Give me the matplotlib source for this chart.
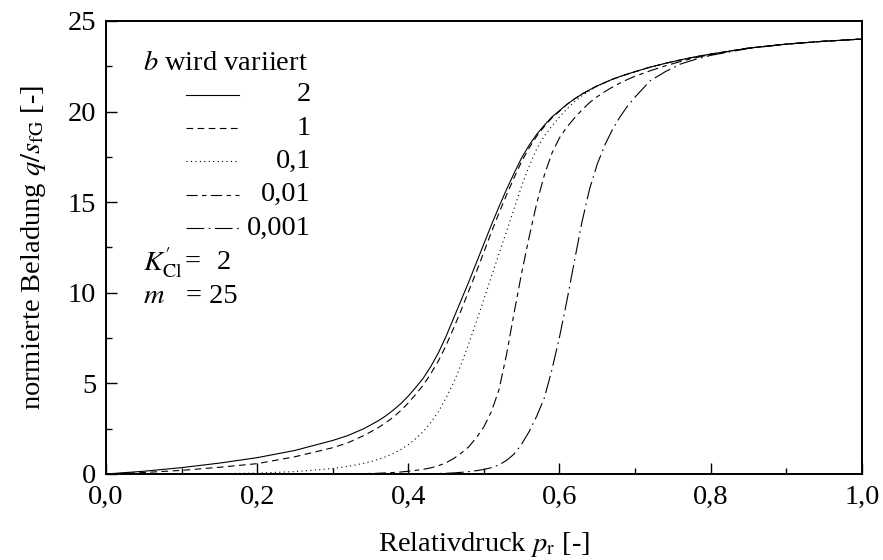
import numpy as np
import matplotlib
matplotlib.use("Agg")
from matplotlib import pyplot as plt

plt.rcParams['font.family'] = ['Liberation Serif', 'DejaVu Serif']
plt.rcParams['mathtext.fontset'] = 'stix'
plt.rcParams['font.size'] = 20.5

# relative pressure p_r
p = [0.0, 0.05, 0.1, 0.15, 0.2, 0.25, 0.3, 0.32,
     0.34, 0.35, 0.36, 0.37, 0.38, 0.39, 0.40, 0.41, 0.42, 0.43, 0.44, 0.45,
     0.46, 0.47, 0.48, 0.49, 0.50, 0.51, 0.52, 0.53, 0.54, 0.55, 0.56, 0.57,
     0.58, 0.59, 0.60, 0.61, 0.62, 0.63, 0.64, 0.65, 0.66, 0.67, 0.68, 0.69, 0.70,
     0.72, 0.74, 0.76, 0.78, 0.80, 0.85, 0.90, 0.95, 1.0]

# normalised loading q/s_fG for each b
q_b2 = [0.0, 0.15, 0.35, 0.6, 0.9, 1.3, 1.85, 2.12,
        2.48, 2.7, 2.93, 3.2, 3.52, 3.88, 4.3, 4.78, 5.3, 5.95, 6.7, 7.6,
        8.6, 9.6, 10.6, 11.65, 12.7, 13.75, 14.75, 15.7, 16.6, 17.45, 18.15, 18.75,
        19.25, 19.7, 20.05, 20.4, 20.7, 20.97, 21.2, 21.42, 21.6, 21.78, 21.93, 22.07, 22.2,
        22.45, 22.66, 22.85, 23.02, 23.17, 23.5, 23.72, 23.88, 24.0]
q_b1 = [0.0, 0.08, 0.2, 0.37, 0.57, 0.95, 1.45, 1.72,
        2.1, 2.32, 2.55, 2.82, 3.13, 3.5, 3.92, 4.4, 4.92, 5.55, 6.25, 7.1,
        8.05, 9.05, 10.1, 11.15, 12.25, 13.35, 14.4, 15.4, 16.35, 17.25, 18.0, 18.65,
        19.18, 19.65, 20.02, 20.4, 20.7, 20.97, 21.2, 21.42, 21.6, 21.78, 21.93, 22.07, 22.2,
        22.45, 22.66, 22.85, 23.02, 23.17, 23.5, 23.72, 23.88, 24.0]
q_b01 = [0.0, 0.0, 0.01, 0.02, 0.05, 0.13, 0.3, 0.42,
         0.58, 0.68, 0.8, 0.95, 1.12, 1.35, 1.62, 1.95, 2.35, 2.85, 3.45, 4.2,
         5.05, 6.05, 7.2, 8.4, 9.65, 10.9, 12.15, 13.4, 14.65, 15.9, 17.0, 17.95,
         18.65, 19.2, 19.7, 20.15, 20.55, 20.88, 21.15, 21.4, 21.59, 21.77, 21.93, 22.07, 22.2,
         22.45, 22.66, 22.85, 23.02, 23.17, 23.5, 23.72, 23.88, 24.0]
q_b001 = [0.0, 0.0, 0.0, 0.0, 0.0, 0.0, 0.0, 0.01,
          0.02, 0.03, 0.04, 0.06, 0.08, 0.11, 0.15, 0.2, 0.26, 0.34, 0.46, 0.62,
          0.85, 1.15, 1.5, 2.0, 2.6, 3.45, 4.65, 6.6, 8.9, 11.1, 13.1, 14.95,
          16.5, 17.7, 18.55, 19.15, 19.65, 20.1, 20.5, 20.82, 21.1, 21.35, 21.57, 21.77, 21.95,
          22.25, 22.52, 22.76, 22.97, 23.15, 23.5, 23.72, 23.88, 24.0]
q_b0001 = [0.0, 0.0, 0.0, 0.0, 0.0, 0.0, 0.0, 0.0,
           0.0, 0.0, 0.0, 0.0, 0.0, 0.0, 0.0, 0.01, 0.01, 0.02, 0.03, 0.04,
           0.06, 0.09, 0.13, 0.18, 0.25, 0.35, 0.5, 0.75, 1.1, 1.65, 2.35, 3.2,
           4.2, 5.75, 7.55, 9.6, 11.8, 13.95, 15.75, 17.1, 18.15, 19.0, 19.7, 20.3, 20.8,
           21.7, 22.2, 22.62, 22.88, 23.1, 23.48, 23.72, 23.88, 24.0]

b_labels = ['2', '1', '0,1', '0,01', '0,001']
series = [q_b2, q_b1, q_b01, q_b001, q_b0001]
styles = ['-', (0, (6, 4)), (0, (1, 3)), (0, (10, 4, 4, 4)), (0, (16, 4, 1.5, 4))]

fig = plt.figure(figsize=(8.83, 5.6), dpi=100)
ax = fig.add_axes([0.120, 0.1536, 0.856, 0.809])

for q, ls in zip(series, styles):
    ax.plot(p, q, color='black', linestyle=ls, linewidth=0.8)

ax.set_xlim(0, 1)
ax.set_ylim(0, 25)
ax.set_xticks([0.0, 0.2, 0.4, 0.6, 0.8, 1.0])
ax.set_xticks([0.1, 0.3, 0.5, 0.7, 0.9], minor=True)
ax.set_xticklabels(['0,0', '0,2', '0,4', '0,6', '0,8', '1,0'])
ax.set_yticks([0, 5, 10, 15, 20, 25])
ax.set_yticks([2.5, 7.5, 12.5, 17.5, 22.5], minor=True)
ax.tick_params(which='both', direction='in', top=False, right=False, width=1.0)
ax.tick_params(axis='x', pad=8)
ax.tick_params(axis='y', pad=7)
ax.tick_params(which='major', length=8)
ax.tick_params(which='minor', length=4)
for s in ax.spines.values():
    s.set_linewidth(1.4)

ax.set_xlabel(r'Relativdruck $p_\mathrm{r}$ [-]', labelpad=14)
ax.set_ylabel(r'normierte Beladung $q/s_\mathrm{fG}$ [-]', labelpad=14)

# hand-made legend block
ax.text(0.049, 0.905, r'$b$ wird variiert', transform=ax.transAxes, va='center', ha='left')
y0 = 0.837
for i, (lab, ls) in enumerate(zip(b_labels, styles)):
    yy = y0 - i * 0.0735
    ax.plot([0.106, 0.176], [yy, yy], transform=ax.transAxes, color='black',
            linestyle=ls, linewidth=0.8)
    ax.text(0.271, yy, lab, transform=ax.transAxes, va='center', ha='right')
ax.text(0.049, 0.466, r"$K^{\prime}_{\mathrm{Cl}}$", transform=ax.transAxes, va='center', ha='left')
ax.text(0.104, 0.466, "=", transform=ax.transAxes, va='center', ha='left')
ax.text(0.147, 0.466, "2", transform=ax.transAxes, va='center', ha='left')
ax.text(0.049, 0.392, r"$m$", transform=ax.transAxes, va='center', ha='left')
ax.text(0.106, 0.392, "= 25", transform=ax.transAxes, va='center', ha='left')

fig.savefig('out.png', dpi=100)
